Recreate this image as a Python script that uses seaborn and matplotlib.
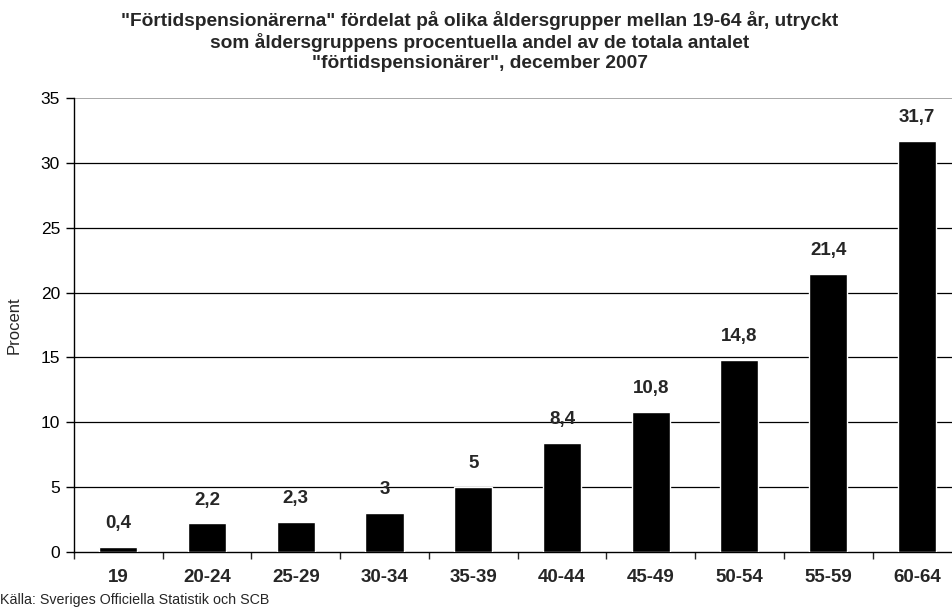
import numpy as np
import pandas as pd
import matplotlib
matplotlib.use("Agg")
import matplotlib.pyplot as plt
import seaborn as sns

age_groups = ["19", "20-24", "25-29", "30-34", "35-39", "40-44", "45-49", "50-54", "55-59", "60-64"]
share = [0.4, 2.2, 2.3, 3.0, 5.0, 8.4, 10.8, 14.8, 21.4, 31.7]
value_labels = ["0,4", "2,2", "2,3", "3", "5", "8,4", "10,8", "14,8", "21,4", "31,7"]

df = pd.DataFrame({"age": age_groups, "share": share})

sns.set_style("white")
plt.rcParams['font.family'] = ['Liberation Sans', 'DejaVu Sans']

fig = plt.figure(figsize=(9.52, 6.12), dpi=100)
# plot area runs a little past the right edge, as in the original
ax = fig.add_axes([0.0777, 0.098, 0.932, 0.742])

sns.barplot(data=df, x="age", y="share", color="black", width=0.43,
            saturation=1, ax=ax, zorder=3)

ax.set_ylim(0, 35)
ax.set_xlim(-0.5, len(age_groups) - 0.5)
ax.set_yticks(range(0, 36, 5))
for y in range(5, 35, 5):
    ax.axhline(y, color="black", lw=0.9, zorder=1)
ax.axhline(35, color="#999999", lw=1.2, zorder=1)

for sp in ["top", "right"]:
    ax.spines[sp].set_visible(False)
for sp in ["left", "bottom"]:
    ax.spines[sp].set_color("black")
    ax.spines[sp].set_linewidth(1.0)

ax.tick_params(axis="y", which="major", left=True, length=6, width=1, labelsize=12.5, pad=4, colors="black")
ax.tick_params(axis="x", which="major", bottom=False, length=0, labelsize=13.5, pad=12)
ax.set_xticks(np.arange(-0.5, len(age_groups), 1), minor=True)
ax.tick_params(axis="x", which="minor", bottom=True, length=5, width=1, direction="out")
for lbl in ax.get_xticklabels():
    lbl.set_fontweight("bold")

ax.set_xlabel("")
ax.set_ylabel("Procent", fontsize=12, labelpad=14)

for i, (v, t) in enumerate(zip(share, value_labels)):
    ax.text(i, v + 1.15, t, ha="center", va="bottom", fontsize=13.5, fontweight="bold", zorder=4)

fig.suptitle('"Förtidspensionärerna" fördelat på olika åldersgrupper mellan 19-64 år, utryckt\n'
             'som åldersgruppens procentuella andel av de totala antalet\n'
             '"förtidspensionärer", december 2007',
             x=0.504, y=0.982, fontsize=13.8, fontweight="bold", linespacing=1.2)

fig.text(0.0, 0.008, "Källa: Sveriges Officiella Statistik och SCB", fontsize=10.3, ha="left", va="bottom")

fig.savefig("out.png", dpi=100)
